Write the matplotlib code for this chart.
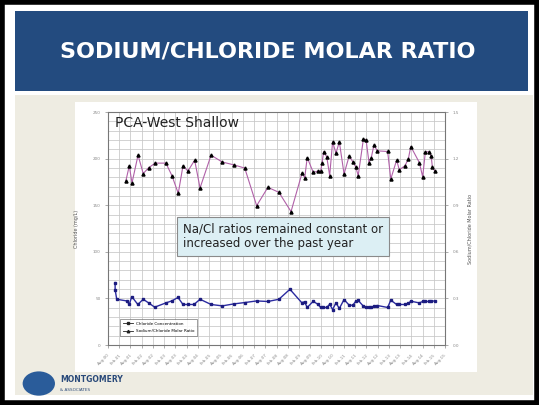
"""Sodium/chloride molar ratio slide for PCA-West Shallow."""

import matplotlib.pyplot as plt
from matplotlib.lines import Line2D
from matplotlib.patches import Circle, Rectangle

# Sample dates as decimal years
CHLORIDE_DATES = [
    2000.90, 2000.90, 2000.97, 2001.42, 2001.53, 2001.64, 2001.91, 2002.15, 2002.39, 2002.66,
    2003.16, 2003.42, 2003.70, 2003.92, 2004.14, 2004.41, 2004.68, 2005.17, 2005.67, 2006.18,
    2006.68, 2007.20, 2007.70, 2008.19, 2008.68, 2009.20, 2009.33, 2009.45, 2009.72, 2009.93,
    2010.05, 2010.17, 2010.32, 2010.45, 2010.58, 2010.73, 2010.88, 2011.09, 2011.32, 2011.48,
    2011.61, 2011.72, 2011.95, 2012.07, 2012.20, 2012.30, 2012.42, 2012.57, 2013.03, 2013.17,
    2013.43, 2013.55, 2013.80, 2013.95, 2014.06, 2014.44, 2014.59, 2014.71, 2014.86, 2014.97,
    2015.12,
]
CHLORIDE_MGL = [
    67.0, 59.5, 49.1, 47.3, 43.5, 52.0, 43.5, 49.1, 45.2, 40.6,
    45.2, 47.3, 51.0, 43.5, 43.5, 43.5, 49.1, 43.5, 42.0, 44.1,
    45.6, 47.3, 46.7, 49.1, 59.8, 45.6, 46.3, 40.3, 47.0, 43.5,
    40.3, 40.3, 40.3, 43.8, 38.1, 45.2, 39.2, 48.8, 42.7, 42.7,
    47.0, 47.8, 41.7, 40.3, 40.3, 40.3, 41.7, 42.4, 40.3, 48.1,
    43.5, 43.5, 43.5, 44.6, 47.0, 45.2, 46.7, 46.7, 46.7, 47.0,
    47.3,
]

RATIO_DATES = [
    2001.38, 2001.53, 2001.65, 2001.92, 2002.15, 2002.39, 2002.68, 2003.16, 2003.43, 2003.71,
    2003.92, 2004.14, 2004.44, 2004.68, 2005.17, 2005.67, 2006.18, 2006.67, 2007.20, 2007.70,
    2008.19, 2008.73, 2009.22, 2009.34, 2009.45, 2009.72, 2009.93, 2010.05, 2010.11, 2010.18,
    2010.32, 2010.45, 2010.58, 2010.73, 2010.88, 2011.09, 2011.32, 2011.48, 2011.61, 2011.72,
    2011.95, 2012.07, 2012.20, 2012.30, 2012.42, 2012.57, 2013.03, 2013.17, 2013.43, 2013.55,
    2013.80, 2013.95, 2014.06, 2014.44, 2014.59, 2014.71, 2014.86, 2014.97, 2015.02, 2015.12,
]
NA_CL_RATIO = [
    1.058, 1.154, 1.043, 1.222, 1.104, 1.141, 1.171, 1.171, 1.090, 0.976,
    1.154, 1.120, 1.190, 1.011, 1.222, 1.178, 1.160, 1.139, 0.897, 1.015,
    0.983, 0.859, 1.107, 1.077, 1.207, 1.111, 1.120, 1.120, 1.171, 1.244,
    1.212, 1.090, 1.308, 1.235, 1.308, 1.101, 1.218, 1.179, 1.147, 1.090,
    1.325, 1.321, 1.175, 1.205, 1.287, 1.250, 1.246, 1.069, 1.190, 1.128,
    1.154, 1.197, 1.278, 1.175, 1.083, 1.244, 1.244, 1.214, 1.147, 1.122,
]

# Half-year ticks from Aug-00 to Aug-15
TICK_YEARS = [2000 + 7 / 12 + 0.5 * i for i in range(31)]
TICK_LABELS = [("Aug-" if i % 2 == 0 else "Feb-") + f"{(i + 1) // 2:02d}" for i in range(31)]

TITLE_BLUE = "#234B7F"
BEIGE = "#EEECE2"
CHLORIDE_COLOR = "#2B2BA0"
RATIO_COLOR = "#B060A8"
GRID_COLOR = "#C6C6C6"
TICK_TEXT = "#888888"

fig = plt.figure(figsize=(5.39, 4.05), dpi=100)
fig.patch.set_facecolor("white")

# slide background pieces
fig.add_artist(Rectangle((0.0278, 0.0247), 0.961, 0.741, transform=fig.transFigure,
                         facecolor=BEIGE, edgecolor="none", zorder=0))
fig.add_artist(Rectangle((0.0278, 0.7753), 0.952, 0.1975, transform=fig.transFigure,
                         facecolor=TITLE_BLUE, edgecolor="none", zorder=0))
fig.add_artist(Rectangle((0.139, 0.0815), 0.746, 0.667, transform=fig.transFigure,
                         facecolor="white", edgecolor="none", zorder=0))
fig.add_artist(Rectangle((0.003, 0.004), 0.994, 0.992, transform=fig.transFigure,
                         facecolor="none", edgecolor="black", linewidth=4, zorder=5))
fig.text(0.496, 0.872, "SODIUM/CHLORIDE MOLAR RATIO", color="white", fontsize=16,
         fontweight="bold", ha="center", va="center")

# logo
fig.add_artist(Circle((0.072, 0.053), 0.03, transform=fig.transFigure,
                      facecolor="#2A5C9A", edgecolor="none", zorder=1))
fig.text(0.112, 0.062, "MONTGOMERY", color="#2A4A7A", fontsize=5.5, fontweight="bold",
         ha="left", va="center")
fig.text(0.112, 0.038, "& ASSOCIATES", color="#2A4A7A", fontsize=3, ha="left", va="center")

ax = fig.add_axes([0.2004, 0.1481, 0.6252, 0.5753])
ax.set_facecolor("white")
ax.set_xlim(TICK_YEARS[0], TICK_YEARS[-1])
ax.set_ylim(0, 250)
ax.set_yticks(range(0, 251, 50))
ax.set_yticks(range(0, 251, 10), minor=True)
ax.set_xticks(TICK_YEARS)
ax.set_xticklabels(TICK_LABELS, rotation=45, ha="right", rotation_mode="anchor")
ax.grid(True, which="both", color=GRID_COLOR, linewidth=0.55)
ax.tick_params(axis="y", which="minor", length=0)
ax.tick_params(labelsize=3, colors=TICK_TEXT, length=2, width=0.5)
ax.set_axisbelow(True)
for spine in ax.spines.values():
    spine.set_color("#777777")
    spine.set_linewidth(0.8)
ax.set_ylabel("Chloride (mg/L)", fontsize=3.5, color="#555555", labelpad=10)

ax2 = ax.twinx()
ax2.set_ylim(0, 1.5)
ax2.set_yticks([0, 0.3, 0.6, 0.9, 1.2, 1.5])
ax2.set_yticklabels(["0.0", "0.3", "0.6", "0.9", "1.2", "1.5"])
ax2.tick_params(labelsize=3, colors=TICK_TEXT, length=2, width=0.5)
ax2.set_ylabel("Sodium/Chloride Molar Ratio", fontsize=3.5, color="#555555",
               rotation=90, labelpad=6)
for spine in ax2.spines.values():
    spine.set_visible(False)

ax.plot(CHLORIDE_DATES, CHLORIDE_MGL, color=CHLORIDE_COLOR, linewidth=1.0,
        marker="s", markersize=2.0, markerfacecolor="#1C1C80", markeredgecolor="#1C1C80",
        zorder=3)
ax2.plot(RATIO_DATES, NA_CL_RATIO, color=RATIO_COLOR, linewidth=0.8,
         marker="^", markersize=2.2, markerfacecolor="black", markeredgecolor="black",
         zorder=3)

ax.text(0.02, 0.955, "PCA-West Shallow", transform=ax.transAxes, fontsize=10,
        ha="left", va="center", color="#222222")

ax2.text(0.222, 0.466, "Na/Cl ratios remained constant or\nincreased over the past year",
         transform=ax.transAxes, fontsize=8.5, ha="left", va="center", color="#222222",
         linespacing=1.15,
         bbox=dict(boxstyle="square,pad=0.5", facecolor="#DCEFF4", edgecolor="#8A8A8A",
                   linewidth=0.8))

handles = [
    Line2D([], [], color="#222222", marker="s", markersize=1.6, linewidth=0.6),
    Line2D([], [], color="#222222", marker="^", markersize=1.8, linewidth=0.6),
]
leg = ax.legend(handles, ["Chloride Concentration", "Sodium/Chloride Molar Ratio"],
                loc="lower left", bbox_to_anchor=(0.03, 0.03), fontsize=3,
                frameon=True, fancybox=False, edgecolor="#555555", handlelength=2.5,
                borderpad=0.6, labelspacing=0.9)
leg.get_frame().set_linewidth(0.5)
leg.set_zorder(6)

fig.savefig("out.png", dpi=100)
